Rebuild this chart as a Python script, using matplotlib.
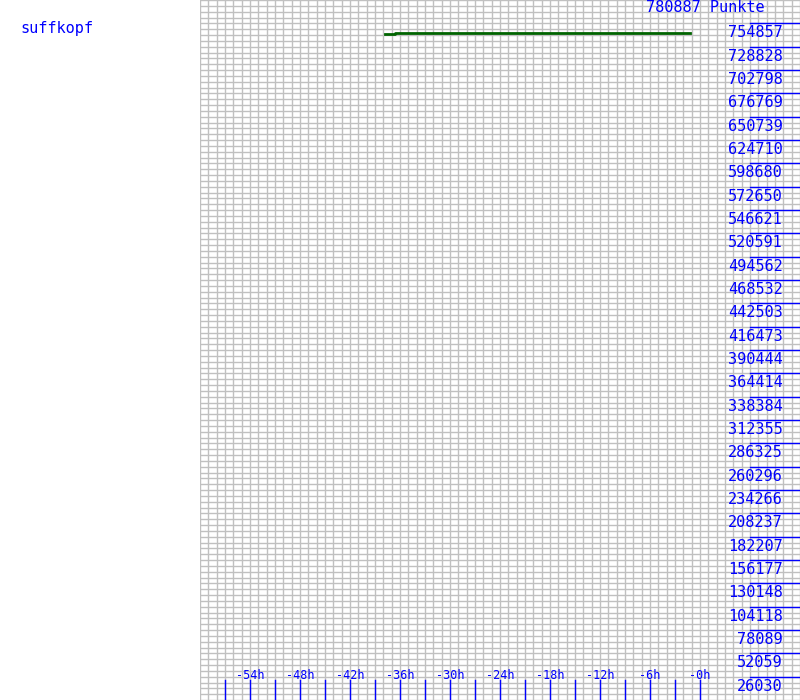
import numpy as np
import matplotlib.pyplot as plt
import matplotlib.transforms as mtransforms

# chart values
player = 'suffkopf'
max_points = 780887
hours = [-37.8, -36.6, -1.2]
points = [742900, 744400, 744400]
tick_values = [26030, 52059, 78089, 104118, 130148, 156177, 182207, 208237,
               234266, 260296, 286325, 312355, 338384, 364414, 390444, 416473,
               442503, 468532, 494562, 520591, 546621, 572650, 598680, 624710,
               650739, 676769, 702798, 728828, 754857]
hour_labels = [-54, -48, -42, -36, -30, -24, -18, -12, -6, 0]

blue = '#0000ff'
font = 'DejaVu Sans Mono'

fig = plt.figure(figsize=(8, 7), dpi=100)
ax = fig.add_axes([0.25, 0, 0.75, 1])
ax.set_xlim(-60, 12)
ax.set_ylim(0, max_points)

# light grey grid: one column per hour, four rows per label step
step = max_points / 30
for h in range(-60, 13):
    ax.axvline(h, color='#c0c0c0', lw=1, zorder=1)
for i in range(0, 121):
    ax.axhline(i * step / 4, color='#c0c0c0', lw=1, zorder=1)

for s in ax.spines.values():
    s.set_visible(False)
ax.set_xticks([])
ax.set_yticks([])

# bottom hour ticks
xt = mtransforms.blended_transform_factory(ax.transData, ax.transAxes)
for h in range(-57, 1, 3):
    ax.plot([h, h], [0, 20 / 700], color=blue, lw=1, transform=xt, zorder=3)
for h in hour_labels:
    lab = '-%dh' % abs(h)
    ax.text(h, 18 / 700, lab, transform=xt, ha='center', va='bottom',
            color=blue, fontsize=8.5, family=font, zorder=4)

# right-hand point scale
yt = mtransforms.blended_transform_factory(ax.transAxes, ax.transData)
down = mtransforms.offset_copy(yt, fig=fig, x=0, y=-2, units='dots')
for v in tick_values:
    ax.plot([550 / 600, 1], [v, v], color=blue, lw=1, transform=yt, zorder=3)
    ax.text(583 / 600, v, str(v), transform=down, ha='right', va='top',
            color=blue, fontsize=11, family=font, zorder=4)

ax.text(565 / 600, 1, '%d Punkte' % max_points, transform=ax.transAxes,
        ha='right', va='top', color=blue, fontsize=11, family=font, zorder=4)

# score line
ax.plot(hours, points, color='#006400', lw=2, drawstyle='steps-post', zorder=5)

fig.text(20 / 800, 1 - 28 / 700, player, ha='left', va='center',
         color=blue, fontsize=11, family=font)

fig.savefig('out.png', dpi=100)
